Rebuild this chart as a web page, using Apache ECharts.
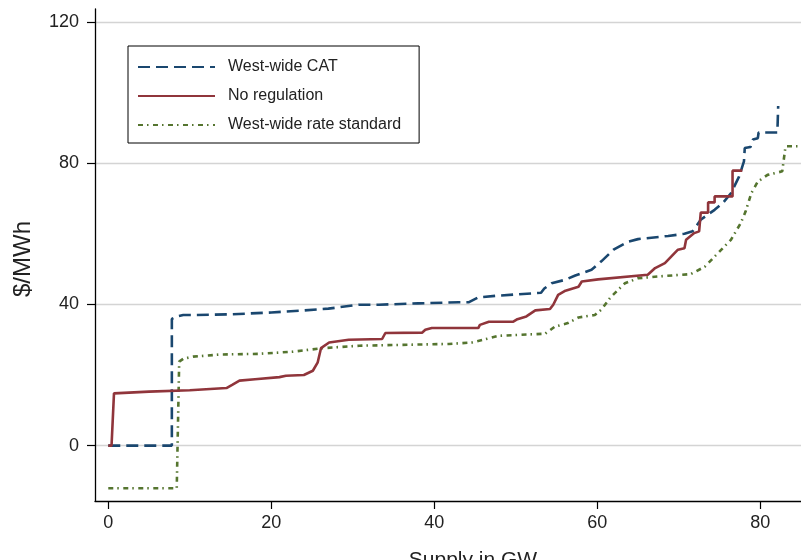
<!DOCTYPE html>
<html>
<head>
<meta charset="utf-8">
<script src="https://cdn.jsdelivr.net/npm/echarts@6/dist/echarts.min.js"></script>
<style>
  html, body { margin: 0; padding: 0; background: #fff; }
  #main { width: 801px; height: 560px; }
</style>
</head>
<body>
<div id="main"></div>
<script>
// 数据
var seriesNames = ['West-wide CAT', 'No regulation', 'West-wide rate standard'];
var xTicks = [0, 20, 40, 60, 80];
var yTicks = [0, 40, 80, 120];

var catX = [0, 7.8, 7.8, 8.4, 9.2, 10.4, 15, 20, 24, 27, 30.7, 33.2, 38, 43, 44.2, 45.4, 47.9, 53.1, 53.5, 54.4, 56.1, 57.3, 59.3, 60.5, 62, 63.8, 65, 68.7, 70.7, 71.7, 72.7, 74.4, 75.4, 76.4, 77.4, 78, 78.1, 78.8, 79.1, 79.7, 79.8, 82.1, 82.2];
var catY = [0, 0, 35.9, 36.6, 37, 37, 37.2, 37.7, 38.3, 38.8, 39.9, 39.9, 40.3, 40.6, 40.6, 42, 42.5, 43.3, 44.5, 46, 47, 48.2, 49.8, 52.2, 55.5, 57.8, 58.5, 59.4, 60, 60.7, 64, 66.8, 68.7, 71.5, 76.2, 80.5, 84.3, 84.6, 86.7, 87.1, 88.7, 88.7, 96.2];

var noRegX = [0, 0.4, 0.7, 5, 10, 14.5, 15.2, 16.1, 18, 21, 21.8, 24, 25.1, 25.7, 26.1, 27.1, 29.5, 33.6, 34, 38.5, 38.9, 39.7, 45.4, 45.6, 46.7, 49.7, 50.2, 51.3, 52.4, 54.2, 54.6, 55.2, 56.1, 57.7, 58.1, 60.1, 66.2, 67.1, 68.3, 69.1, 69.9, 70.7, 70.9, 71.9, 72.5, 72.7, 73.6, 73.6, 74.4, 74.4, 76.6, 76.6, 77.8];
var noRegY = [0, 0, 14.8, 15.3, 15.7, 16.3, 17.2, 18.4, 18.8, 19.4, 19.8, 20, 21.2, 23.6, 27.6, 29.2, 30, 30.2, 31.9, 32, 32.8, 33.3, 33.3, 34.2, 35.1, 35.1, 35.8, 36.6, 38.3, 38.7, 39.9, 42.7, 43.9, 45, 46.5, 47.1, 48.4, 50.3, 51.7, 53.6, 55.5, 55.9, 58.3, 60.2, 60.7, 66, 66, 68.9, 68.9, 70.6, 70.6, 77.9, 77.9];

var rateX = [0, 8.4, 8.7, 9.2, 10.4, 13.7, 18.5, 22.6, 26.3, 30.8, 41.8, 44.6, 46.7, 47.9, 53.6, 54.8, 56.4, 57.7, 59.7, 60.5, 61.7, 63.4, 65, 67.4, 71.5, 73.2, 74.8, 76.4, 77.6, 78.2, 78.9, 79.7, 80.9, 82.7, 83.1, 84.7];
var rateY = [-12.1, -12.1, 23.8, 24.6, 25.2, 25.8, 26, 26.6, 27.6, 28.3, 28.8, 29.2, 30.4, 31.1, 31.7, 33.7, 34.7, 36.3, 37, 38.5, 42.2, 46, 47.4, 47.9, 48.6, 50.7, 54.5, 58.3, 63, 66.3, 71.5, 74.8, 76.7, 77.7, 84.8, 84.8];

function pairs(xs, ys) {
  return xs.map(function (x, i) { return [x, ys[i]]; });
}

var font = "'Liberation Sans', Arial, Helvetica, sans-serif";

function supplyChart() {
  var myChart = echarts.init(document.getElementById('main'));
  var option = {
    animation: false,
    backgroundColor: '#fff',
    textStyle: { fontFamily: font },
    grid: {
      left: 95,
      right: 0,
      top: 9,
      bottom: 59,
      outerBoundsMode: 'none'
    },
    legend: {
      data: seriesNames,
      orient: 'vertical',
      left: 128,
      top: 46,
      z: 10,
      backgroundColor: '#fff',
      borderColor: '#000',
      borderWidth: 1,
      borderRadius: 0,
      padding: [11, 18, 8, 9],
      itemWidth: 77,
      itemHeight: 14,
      itemGap: 9,
      itemStyle: { opacity: 0 },
      textStyle: {
        fontFamily: font,
        fontSize: 16,
        color: '#222',
        lineHeight: 20,
        padding: [0, 0, 0, 8]
      }
    },
    xAxis: {
      type: 'value',
      min: -1.63,
      max: 85,
      name: 'Supply in GW',
      nameLocation: 'middle',
      nameGap: 49,
      nameTextStyle: {
        fontFamily: font,
        fontSize: 21,
        color: '#222',
        padding: [0, 0, 0, 50]
      },
      axisLine: { onZero: false, lineStyle: { color: '#000', width: 1.3 } },
      axisTick: { length: 8, customValues: xTicks, lineStyle: { color: '#000', width: 1.2 } },
      axisLabel: { customValues: xTicks, margin: 13, fontSize: 18, color: '#222', fontFamily: font },
      splitLine: { show: false }
    },
    yAxis: {
      type: 'value',
      min: -15.7,
      max: 123.7,
      name: '$/MWh',
      nameLocation: 'middle',
      nameRotate: 90,
      nameGap: 60,
      nameTextStyle: {
        fontFamily: font,
        fontSize: 24,
        color: '#222',
        padding: [0, 8, 0, 0]
      },
      axisLine: { show: true, onZero: false, lineStyle: { color: '#000', width: 1.3 } },
      axisTick: { show: true, length: 8, customValues: yTicks, lineStyle: { color: '#000', width: 1.2 } },
      axisLabel: { customValues: yTicks, margin: 16, fontSize: 18, color: '#222', fontFamily: font },
      splitLine: { show: false }
    },
    series: [
      {
        // 网格线
        type: 'line',
        data: [],
        z: 0,
        silent: true,
        markLine: {
          silent: true,
          z: 0,
          symbol: ['none', 'none'],
          label: { show: false },
          lineStyle: { color: '#d4d4d4', width: 1.3, type: 'solid' },
          emphasis: { disabled: true },
          data: yTicks.map(function (v) { return { yAxis: v }; })
        }
      },
      {
        name: seriesNames[0],
        type: 'line',
        data: pairs(catX, catY),
        showSymbol: false,
        symbol: 'none',
        z: 3,
        color: '#1a476f',
        lineStyle: { width: 2.6, type: [12, 6], color: '#1a476f' }
      },
      {
        name: seriesNames[1],
        type: 'line',
        data: pairs(noRegX, noRegY),
        showSymbol: false,
        symbol: 'none',
        z: 4,
        color: '#90353b',
        lineStyle: { width: 2.6, type: 'solid', color: '#90353b' }
      },
      {
        name: seriesNames[2],
        type: 'line',
        data: pairs(rateX, rateY),
        showSymbol: false,
        symbol: 'none',
        z: 2,
        color: '#55752f',
        lineStyle: { width: 2.6, type: [5, 4, 1.5, 4.5], color: '#55752f' }
      }
    ]
  };
  myChart.setOption(option);
}

supplyChart();
</script>
</body>
</html>
